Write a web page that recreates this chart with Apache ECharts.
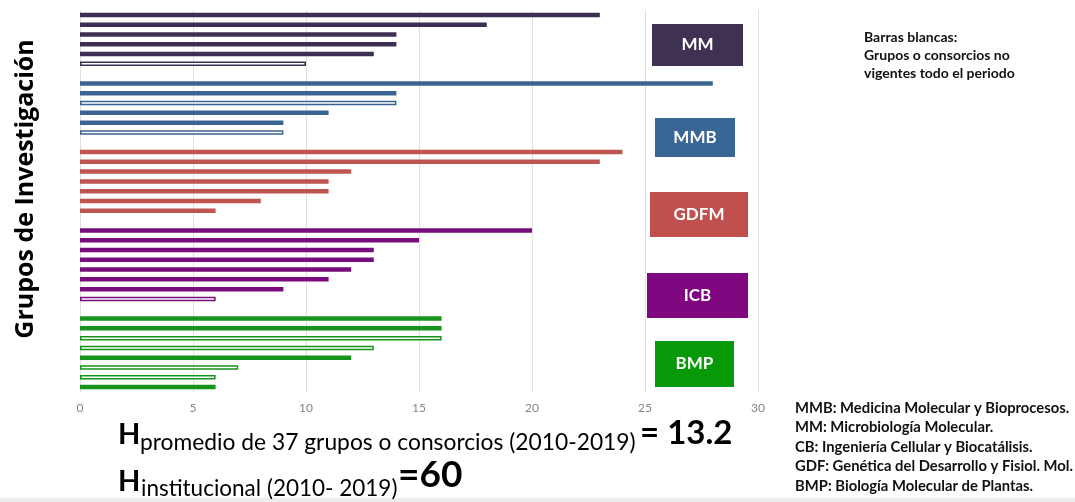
<!DOCTYPE html>
<html>
<head>
<meta charset="utf-8">
<script src="https://cdn.jsdelivr.net/npm/echarts@6/dist/echarts.min.js"></script>
<style>
  html, body { margin: 0; padding: 0; background: #fff; }
  #container { width: 1075px; height: 502px; }
</style>
</head>
<body>
<div id="container"></div>
<script>
// valores H por grupo (de arriba hacia abajo), 1 = barra blanca (no vigente todo el periodo)
var groupNames = ['MM', 'MMB', 'GDFM', 'ICB', 'BMP'];
var mmValues   = [23, 18, 14, 14, 13, 10];
var mmHollow   = [0, 0, 0, 0, 0, 1];
var mmbValues  = [28, 14, 14, 11, 9, 9];
var mmbHollow  = [0, 0, 1, 0, 0, 1];
var gdfmValues = [24, 23, 12, 11, 11, 8, 6];
var gdfmHollow = [0, 0, 0, 0, 0, 0, 0];
var icbValues  = [20, 15, 13, 13, 12, 11, 9, 6];
var icbHollow  = [0, 0, 0, 0, 0, 0, 0, 1];
var bmpValues  = [16, 16, 16, 13, 12, 7, 6, 6];
var bmpHollow  = [0, 0, 1, 1, 0, 1, 1, 0];
var xTicks = [0, 5, 10, 15, 20, 25, 30];

var barColors = ['#3d2f52', '#3a6491', '#bf5550', '#790c7c', '#17921a'];
var boxColors = ['#3f3151', '#3a6696', '#c0504d', '#7e067e', '#079907'];

var groups = [
  [mmValues, mmHollow],
  [mmbValues, mmbHollow],
  [gdfmValues, gdfmHollow],
  [icbValues, icbHollow],
  [bmpValues, bmpHollow]
];

// categorias con un hueco entre grupos
var categories = [];
var barData = [];
groups.forEach(function (g, gi) {
  if (gi > 0) {
    categories.push('sep' + gi);
    barData.push('-');
  }
  g[0].forEach(function (v, i) {
    categories.push(groupNames[gi] + ' ' + (i + 1));
    var hollow = g[1][i] === 1;
    barData.push({
      value: v,
      itemStyle: hollow
        ? { color: '#ffffff', borderColor: barColors[gi], borderWidth: 1.5 }
        : { color: barColors[gi] }
    });
  });
});

var dom = document.getElementById('container');
var myChart = echarts.init(dom);

// cajas de grupo
var boxes = [
  { x: 652, y: 24, w: 91, h: 42 },
  { x: 655, y: 118, w: 80, h: 39 },
  { x: 650, y: 192, w: 98, h: 45 },
  { x: 647, y: 273, w: 101, h: 45 },
  { x: 655, y: 341, w: 79, h: 46 }
];
var graphics = [];
boxes.forEach(function (b, i) {
  graphics.push({
    type: 'rect',
    shape: { x: b.x, y: b.y, width: b.w, height: b.h },
    style: { fill: boxColors[i] },
    z: 10
  });
  graphics.push({
    type: 'text',
    x: b.x + b.w / 2,
    y: b.y + b.h / 2,
    style: {
      text: groupNames[i],
      fill: '#ffffff',
      font: 'bold 17px Lato',
      align: 'center',
      verticalAlign: 'middle'
    },
    z: 11
  });
});

// titulo eje vertical
graphics.push({
  type: 'text',
  x: 26, y: 189,
  rotation: Math.PI / 2,
  style: {
    text: 'Grupos de Investigación',
    fill: '#000',
    font: 'bold 25px "Open Sans"',
    align: 'center',
    verticalAlign: 'middle'
  }
});

// textos de la derecha
graphics.push({
  type: 'text',
  x: 864, y: 28,
  style: {
    text: 'Barras blancas:\nGrupos o consorcios no\nvigentes todo el periodo',
    fill: '#111',
    font: 'bold 14px Lato',
    lineHeight: 18
  }
});
graphics.push({
  type: 'text',
  x: 795, y: 398,
  style: {
    text: 'MMB: Medicina Molecular y Bioprocesos.\nMM: Microbiología Molecular.\nCB: Ingeniería Cellular y Biocatálisis.\nGDF: Genética del Desarrollo y Fisiol. Mol.\nBMP: Biología Molecular de Plantas.',
    fill: '#111',
    font: 'bold 14.8px Lato',
    lineHeight: 19.5
  }
});

// formulas H
graphics.push({ type: 'text', x: 118, y: 449, style: { text: 'H', fill: '#000', font: 'bold 29px Lato', verticalAlign: 'bottom' } });
graphics.push({ type: 'text', x: 140, y: 454, style: { text: 'promedio de 37 grupos o consorcios (2010-2019)', fill: '#000', font: '22.8px Lato', verticalAlign: 'bottom' } });
graphics.push({ type: 'text', x: 640, y: 450, style: { text: '= 13.2', fill: '#000', font: 'bold 33px Lato', verticalAlign: 'bottom' } });
graphics.push({ type: 'text', x: 118, y: 496, style: { text: 'H', fill: '#000', font: 'bold 29px Lato', verticalAlign: 'bottom' } });
graphics.push({ type: 'text', x: 141, y: 500, style: { text: 'institucional (2010- 2019)', fill: '#000', font: '22.5px Lato', verticalAlign: 'bottom' } });
graphics.push({ type: 'text', x: 398, y: 494, style: { text: '=60', fill: '#000', font: 'bold 37px Lato', verticalAlign: 'bottom' } });

// banda gris inferior
graphics.push({
  type: 'rect',
  shape: { x: 0, y: 498, width: 1075, height: 4 },
  style: { fill: '#ececec' },
  z: -1
});

option = {
  backgroundColor: '#ffffff',
  animation: false,
  grid: {
    left: 80,
    right: 317,
    top: 10,
    height: 382,
    containLabel: false,
    outerBoundsMode: 'none'
  },
  xAxis: {
    type: 'value',
    min: xTicks[0],
    max: xTicks[xTicks.length - 1],
    interval: 5,
    axisLine: { show: false },
    axisTick: { show: false },
    axisLabel: { color: '#858585', fontSize: 12, fontFamily: 'Lato', margin: 10 },
    splitLine: { lineStyle: { color: '#e0e0e0', width: 1 } }
  },
  yAxis: {
    type: 'category',
    inverse: true,
    data: categories,
    axisLine: { show: false },
    axisTick: { show: false },
    axisLabel: { show: false }
  },
  series: [{
    type: 'bar',
    barWidth: 4.5,
    data: barData,
    z: 3
  }],
  graphic: graphics
};

if (option && typeof option === 'object') {
  myChart.setOption(option, true);
}
</script>
</body>
</html>
